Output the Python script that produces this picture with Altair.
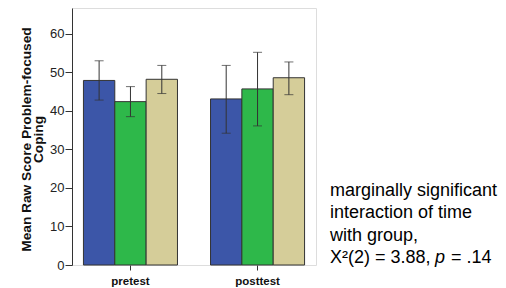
import altair as alt
import pandas as pd

times = ["pretest", "posttest"]
groups = ["Group 1", "Group 2", "Group 3"]
colors = ["#3c56a8", "#2eb84a", "#d5cd99"]
means = {"pretest": [47.9, 42.4, 48.2], "posttest": [43.1, 45.7, 48.6]}
lows = {"pretest": [42.8, 38.5, 44.5], "posttest": [34.2, 36.1, 44.2]}
highs = {"pretest": [53.0, 46.3, 51.8], "posttest": [51.8, 55.2, 52.7]}
y_ticks = [0, 10, 20, 30, 40, 50, 60]
note_lines = ["marginally significant", "interaction of time", "with group,"]
stat_parts = ["Χ²(2) = 3.88,", "p", "= .14"]

rows = []
for t in times:
    for i, g in enumerate(groups):
        rows.append({"time": t, "group": g, "mean": means[t][i],
                     "lo": lows[t][i], "hi": highs[t][i]})
df = pd.DataFrame(rows)

FONT = "Liberation Sans"
W, H = 244, 257
yscale = alt.Scale(domain=[0, 66.7], nice=False)

xenc = alt.X("time:N", sort=times, scale=alt.Scale(paddingInner=0.26, paddingOuter=0.09),
             axis=alt.Axis(title=None, labelAngle=0, labelFont=FONT, labelFontSize=11.5,
                           labelFontWeight="bold", labelColor="#111", tickSize=5,
                           tickColor="#333", domain=False, labelPadding=5))
xoff = alt.XOffset("group:N", sort=groups, scale=alt.Scale(paddingInner=0, paddingOuter=0))

bars = alt.Chart(df).mark_bar(stroke="#333333", strokeWidth=1).encode(
    x=xenc,
    xOffset=xoff,
    y=alt.Y("mean:Q", scale=yscale,
            axis=alt.Axis(values=y_ticks, grid=False, title=["Mean Raw Score Problem-focused", "Coping"],
                          titleFont=FONT, titleFontSize=13.7, titleFontWeight="bold", titleColor="#111",
                          titleX=-46, titleY=131, titleBaseline="middle", titleLineHeight=12,
                          labelFont=FONT, labelFontSize=13, labelColor="#222", tickSize=7,
                          tickColor="#333", labelPadding=1, domainColor="#333")),
    color=alt.Color("group:N", sort=groups, scale=alt.Scale(domain=groups, range=colors), legend=None),
)

rules = alt.Chart(df).mark_rule(color="#333333", strokeWidth=1).encode(
    x=alt.X("time:N", sort=times), xOffset=xoff, y=alt.Y("lo:Q", scale=yscale), y2="hi:Q")
caps_lo = alt.Chart(df).mark_tick(color="#333333", thickness=1, size=9).encode(
    x=alt.X("time:N", sort=times), xOffset=xoff, y=alt.Y("lo:Q", scale=yscale))
caps_hi = alt.Chart(df).mark_tick(color="#333333", thickness=1, size=9).encode(
    x=alt.X("time:N", sort=times), xOffset=xoff, y=alt.Y("hi:Q", scale=yscale))

text_layers = []
line_y = [187.5, 210, 232.5]
for line, yp in zip(note_lines, line_y):
    text_layers.append(
        alt.Chart(pd.DataFrame({"t": [line]})).mark_text(
            align="left", baseline="alphabetic", font=FONT, fontSize=18, color="#000"
        ).encode(x=alt.value(258), y=alt.value(yp), text="t:N"))

xs = [258, 363, 379]
for part, xp, style in zip(stat_parts, xs, ["normal", "italic", "normal"]):
    text_layers.append(
        alt.Chart(pd.DataFrame({"t": [part]})).mark_text(
            align="left", baseline="alphabetic", font=FONT, fontSize=18, fontStyle=style, color="#000"
        ).encode(x=alt.value(xp), y=alt.value(255), text="t:N"))

chart = alt.layer(bars, rules, caps_lo, caps_hi, *text_layers).properties(
    width=W, height=H,
    autosize=alt.AutoSizeParams(type="none"),
    padding={"left": 64, "top": 0, "right": 182, "bottom": 22},
).configure_view(fill="#eeeeee", stroke="#808080", strokeWidth=1).configure(background="white")

chart.save("out.html", embed_options={"renderer": "svg", "actions": False})
